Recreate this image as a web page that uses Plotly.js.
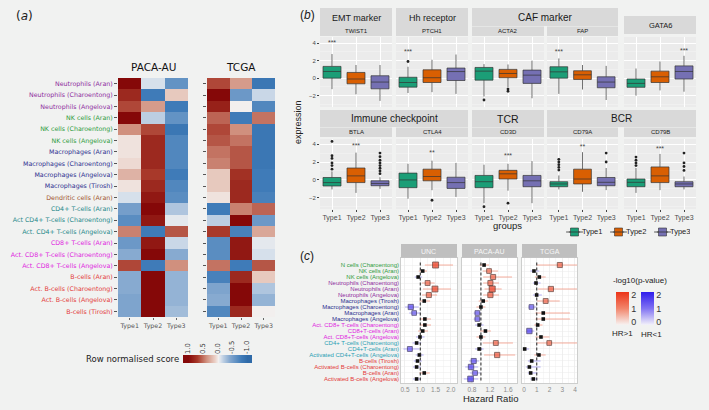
<!DOCTYPE html>
<html>
<head>
<meta charset="utf-8">
<script src="https://cdn.plot.ly/plotly-3.0.1.min.js"></script>
<style>
  html, body { margin: 0; padding: 0; background: #f1f2f1; }
  #chart { width: 709px; height: 410px; }
</style>
</head>
<body>
<div id="chart"></div>
<script>
// ---------- shared ----------
const typeNames = ['Type1', 'Type2', 'Type3'];

// ---------- (a) heatmap data ----------
const heatCells = ['Neutrophils (Aran)', 'Neutrophils (Charoentong)', 'Neutrophils (Angelova)',
  'NK cells (Aran)', 'NK cells (Charoentong)', 'NK cells (Angelova)',
  'Macrophages (Aran)', 'Macrophages (Charoentong)', 'Macrophages (Angelova)', 'Macrophages (Tirosh)',
  'Dendritic cells (Aran)', 'CD4+ T-cells (Aran)', 'Act CD4+ T-cells (Charoentong)', 'Act. CD4+ T-cells (Angelova)',
  'CD8+ T-cells (Aran)', 'Act. CD8+ T-cells (Charoentong)', 'Act. CD8+ T-cells (Angelova)',
  'B-cells (Aran)', 'Act. B-cells (Charoentong)', 'Act. B-cells (Angelova)', 'B-cells (Tirosh)'];
const heatGroups = ['neut', 'neut', 'neut', 'nk', 'nk', 'nk', 'mac', 'mac', 'mac', 'mac', 'dc',
  'cd4', 'cd4', 'cd4', 'cd8', 'cd8', 'cd8', 'b', 'b', 'b', 'b'];

const pacaType1 = [1.0, 0.8, 0.65, 1.0, 0.4, 0.05, 0.05, 0.08, 0.25, 0.05, -0.1, -0.5, -0.65, 0.45, -0.55, -0.4, 0.65, -0.4, -0.4, -0.45, -0.45];
const pacaType2 = [-0.1, -0.8, 0.35, -0.2, 0.65, 0.8, 0.8, 0.8, 0.7, 0.8, 0.9, 1.0, 0.9, -0.8, 0.9, 1.0, -0.8, 1.0, 1.0, 1.0, 1.0];
const pacaType3 = [-0.6, 0.15, -0.8, -0.6, -0.85, -0.7, -0.7, -0.7, -0.8, -0.7, -0.65, -0.25, -0.05, 0.6, -0.15, -0.4, 0.4, -0.35, -0.35, -0.35, -0.3];
const tcgaType1 = [0.65, 1.0, 0.85, 0.55, 0.65, 0.6, 0.5, 0.45, 0.15, 0.15, 0.05, -0.8, -0.2, 0.7, -0.65, -0.65, 0.5, -0.75, -0.45, -0.4, -0.7];
const tcgaType2 = [0.35, -0.55, 0.0, -0.8, 0.4, 0.5, 0.6, 0.6, 0.75, 0.8, 0.8, 0.45, 1.0, -0.75, 0.9, 0.9, -0.8, 0.8, 1.0, 1.0, 0.8];
const tcgaType3 = [-0.85, -0.15, -0.7, 0.5, -0.85, -0.85, -0.85, -0.85, -0.8, -0.8, -0.75, 0.55, -0.55, 0.3, -0.05, -0.1, 0.6, 0.15, -0.25, -0.35, 0.0];

// colour key steps for "Row normalised score"
const scaleSteps = [1.2, 1.0, 0.8, 0.6, 0.4, 0.2, 0, -0.2, -0.4, -0.6, -0.8, -1.0, -1.2];
const scaleTicks = [1, 0.5, 0, -0.5, -1];
const scaleTickText = ['1.0', '0.5', '0.0', '-0.5', '-1.0'];

// ---------- (b) box plot data ----------
const genes = ['TWIST1', 'PTCH1', 'ACTA2', 'FAP', 'GATA6', 'BTLA', 'CTLA4', 'CD3D', 'CD79A', 'CD79B'];
// each row: [lower whisker, q1, median, q3, upper whisker]
const type1Stats = [[-1.26, 0, 0.76, 1.34, 2.75], [-1.7, -1.03, -0.5, 0.1, 1.3], [-2.1, -0.23, 0.8, 1.22, 1.6],
  [-1.8, 0, 0.72, 1.3, 2.25], [-2.0, -1.05, -0.6, -0.1, 1.1], [-1.06, -0.68, -0.3, 0.27, 0.95],
  [-2.1, -0.87, 0, 0.76, 1.8], [-2.6, -0.87, -0.2, 0.5, 1.7], [-1.06, -0.76, -0.45, -0.2, 0.5], [-1.45, -0.76, -0.27, 0.1, 1.33]];
const type2Stats = [[-1.85, -0.65, -0.1, 0.65, 1.5], [-1.6, -0.5, 0.05, 0.95, 2.1], [-1.07, 0.04, 0.53, 1.0, 1.56],
  [-1.3, -0.15, 0.38, 0.84, 1.5], [-1.4, -0.5, 0.15, 0.8, 1.9], [-1.45, -0.3, 0.45, 1.33, 3.05],
  [-1.15, -0.1, 0.38, 1.2, 2.15], [-1.2, 0.1, 0.68, 1.07, 1.8], [-1.33, -0.45, 0.1, 1.2, 3.1], [-1.14, -0.3, 0.45, 1.45, 2.9]];
const type3Stats = [[-2.6, -1.22, -0.45, 0.27, 1.5], [-1.8, -0.27, 0.75, 1.15, 2.7], [-2.3, -0.6, 0.34, 0.92, 2.0],
  [-2.5, -1.1, -0.45, 0.15, 1.4], [-1.55, -0.1, 0.76, 1.4, 2.55], [-1.0, -0.65, -0.4, -0.1, 0.3],
  [-1.9, -0.95, -0.3, 0.3, 1.9], [-2.6, -0.76, -0.1, 0.5, 2.1], [-1.14, -0.65, -0.27, 0.27, 1.33], [-1.06, -0.76, -0.45, -0.2, 0.38]];
const type1Outliers = [[], [1.9], [-2.5], [], [], [1.2, 1.6, 1.9, 2.4, 2.7, 4.3], [], [-3.0], [1.1, 1.4, 1.7, 2.0, 2.3], [1.6, 1.9, 2.2, 2.55]];
const type2Outliers = [[], [], [-1.25, -1.5], [], [], [], [-2.27], [-2.6], [], []];
const type3Outliers = [[], [], [], [], [], [0.7, 1.0, 1.3, 1.6, 1.9, 2.2, 2.6, 3.0], [], [], [2.0, 3.0], [1.06, 1.5, 1.9, 3.0]];
const sigText = ['***', '***', '', '***', '***', '***', '**', '***', '**', '***'];
const sigGroup = ['Type1', 'Type1', 'Type1', 'Type1', 'Type3', 'Type2', 'Type2', 'Type2', 'Type2', 'Type2'];
const sigLevel = [4.0, 3.0, 0, 3.0, 3.1, 3.8, 2.95, 2.66, 3.7, 3.4];

// ---------- (c) forest plot data ----------
const forestCells = ['N cells (Charoentong)', 'NK cells (Aran)', 'NK cells (Angelova)',
  'Neutrophils (Charoentong)', 'Neutrophils (Aran)', 'Neutrophils (Angelova)',
  'Macrophages (Tirosh)', 'Macrophages (Charoentong)', 'Macrophages (Aran)', 'Macrophages (Angelova)',
  'Act. CD8+ T-cells (Charoentong)', 'CD8+T-cells (Aran)', 'Act. CD8+T-cells (Angelova)',
  'CD4+ T-cells (Charoentong)', 'CD4+T-cells (Aran)', 'Activated CD4+T-cells (Angelova)',
  'B-cells (Tirosh)', 'Activated B-cells (Charoentong)', 'B-cells (Aran)', 'Activated B-cells (Angelova)'];
const forestGroups = ['nk', 'nk', 'nk', 'neut', 'neut', 'neut', 'mac', 'mac', 'mac', 'mac',
  'cd8', 'cd8', 'cd8', 'cd4c', 'cd4c', 'cd4c', 'b', 'b', 'b', 'b'];

const uncHR   = [1.50, 1.08, 0.93, 1.24, 1.48, 1.28, 1.13, 0.69, 0.80, 1.15, 1.15, 1.08, 0.99, 0.88, 0.66, 0.97, 0.91, 0.88, 1.13, 0.88];
const uncLow  = [1.15, 0.95, 0.82, 1.05, 1.09, 1.06, 0.97, 0.50, 0.64, 0.98, 0.98, 0.93, 0.86, 0.75, 0.45, 0.85, 0.79, 0.76, 0.97, 0.76];
const uncHigh = [2.07, 1.22, 1.06, 1.47, 2.00, 1.55, 1.32, 0.95, 1.00, 1.35, 1.35, 1.25, 1.14, 1.03, 0.97, 1.11, 1.05, 1.02, 1.31, 1.02];
const uncLogP = [2.2, 0.6, 0.6, 1.5, 2.1, 1.6, 0.9, 1.7, 1.35, 1.0, 1.0, 0.5, 0.1, 0.9, 1.5, 0.2, 0.8, 0.9, 0.9, 0.9];

const pacaHR   = [1.07, 1.18, 1.27, 1.21, 1.25, 1.21, 1.05, 1.00, 0.92, 0.92, 0.96, 1.10, 1.00, 1.33, 0.96, 1.36, 0.84, 0.78, 0.87, 0.77];
const pacaLow  = [0.97, 1.04, 1.05, 1.05, 1.08, 1.05, 0.95, 0.90, 0.84, 0.84, 0.87, 0.98, 0.90, 1.04, 0.87, 1.07, 0.74, 0.65, 0.76, 0.62];
const pacaHigh = [1.18, 1.38, 1.69, 1.40, 1.46, 1.40, 1.16, 1.10, 1.00, 1.00, 1.06, 1.22, 1.10, 1.71, 1.06, 1.76, 0.96, 0.94, 0.99, 0.94];
const pacaLogP = [0.7, 1.4, 1.6, 1.6, 2.2, 1.7, 0.5, 0.1, 1.35, 1.35, 0.4, 0.9, 0.1, 1.5, 0.4, 1.7, 1.6, 1.8, 1.4, 2.0];

const tcgaHR   = [2.81, 0.78, 1.20, 0.94, 2.11, 0.99, 1.70, 0.58, 1.51, 1.51, 1.07, 0.42, 1.33, 1.98, 0.05, 1.17, 0.60, 0.42, 0.52, 0.73];
const tcgaLow  = [1.00, 0.50, 0.85, 0.70, 1.10, 0.70, 1.02, 0.35, 0.90, 0.90, 0.80, 0.20, 0.90, 1.00, 0.00, 0.80, 0.30, 0.15, 0.30, 0.50];
const tcgaHigh = [4.20, 1.20, 1.70, 1.30, 4.20, 1.40, 2.80, 0.98, 3.60, 3.60, 1.45, 0.80, 2.00, 4.20, 0.40, 1.70, 1.30, 1.30, 1.05, 1.05];
const tcgaLogP = [1.6, 0.4, 0.5, 0.2, 1.7, 0.1, 1.5, 1.35, 1.0, 1.0, 0.2, 1.8, 0.6, 1.4, 1.0, 0.3, 0.7, 0.9, 1.2, 0.8];

const hrRef = 1;
const sigCut = 1.3;

// ---------- styling ----------
const W = 709, H = 410;
const fx = p => p / W;
const fy = p => 1 - p / H;
const domX = (a, b) => [fx(a), fx(b)];
const domY = (top, bottom) => [fy(bottom), fy(top)];

const groupColors = { neut: '#8e2c9e', nk: '#2e9b3c', mac: '#2c2f8f', dc: '#a0522d', cd4: '#25888a',
  cd4c: '#2aa0b4', cd8: '#e022e0', b: '#e33a3a' };
const typeColors = ['#1b9e77', '#d95f02', '#7570b3'];
const heatScale = [[0, '#2f6aa8'], [0.1, '#3f7bb8'], [0.3, '#87aad0'], [0.45, '#d6e0eb'], [0.5, '#f2efee'],
  [0.55, '#ecd4cb'], [0.7, '#d0907e'], [0.85, '#a8392a'], [1, '#850808']];
const SEABORN = 'DejaVu Sans';

const data = [];
const shapes = [];
const annotations = [];

function ann(text, x, y, opt = {}) {
  annotations.push({
    text, x: fx(x), y: fy(y), xref: 'paper', yref: 'paper', showarrow: false,
    xanchor: opt.xanchor || 'center', yanchor: 'middle', textangle: opt.angle || 0,
    font: { size: opt.size || 8, color: opt.color || '#1a1a1a', family: opt.family || 'Liberation Sans, Arial, sans-serif' }
  });
}
function rect(x0, x1, y0, y1, fill) {
  shapes.push({ type: 'rect', xref: 'paper', yref: 'paper', x0: fx(x0), x1: fx(x1), y0: fy(y1), y1: fy(y0),
    fillcolor: fill, line: { width: 0 }, layer: 'below' });
}

const layout = {
  width: W, height: H, margin: { l: 0, r: 0, t: 0, b: 0 },
  paper_bgcolor: '#f1f2f1', plot_bgcolor: 'rgba(0,0,0,0)',
  showlegend: false, boxmode: 'overlay',
  font: { family: 'Liberation Sans, Arial, sans-serif', size: 8, color: '#333' },
  shapes, annotations
};

// ---------- (a) heatmaps ----------
const rowIdx = heatCells.map((_, i) => i);
const heatLabels = heatCells.map((t, i) => `<span style="color:${groupColors[heatGroups[i]]}">${t}</span>`);
const toRows = (a, b, c) => a.map((v, i) => [v, b[i], c[i]]);

[[pacaType1, pacaType2, pacaType3, 118, 188], [tcgaType1, tcgaType2, tcgaType3, 207, 275]].forEach((h, k) => {
  const s = k === 0 ? '' : '2';
  data.push({ type: 'heatmap', x: typeNames, y: rowIdx, z: toRows(h[0], h[1], h[2]), zmin: -1, zmax: 1,
    colorscale: heatScale, showscale: false, xaxis: 'x' + s, yaxis: 'y' + s, hoverinfo: 'skip' });
  layout['xaxis' + s] = { domain: domX(h[3], h[4]), anchor: 'y' + s, type: 'category', ticks: 'outside', ticklen: 2,
    tickcolor: '#666', tickfont: { family: SEABORN, size: 6.3, color: '#555' }, showgrid: false, zeroline: false };
  layout['yaxis' + s] = { domain: domY(78, 317), anchor: 'x' + s, range: [20.5, -0.5], tickvals: rowIdx,
    ticktext: heatLabels, showticklabels: k === 0, ticks: 'outside', ticklen: 3, tickcolor: '#555',
    tickfont: { family: SEABORN, size: 6.3 }, showgrid: false, zeroline: false };
});

data.push({ type: 'heatmap', x: scaleSteps, y: [0], z: [scaleSteps], zsmooth: 'best', zmin: -1, zmax: 1,
  colorscale: heatScale, showscale: false, xaxis: 'x3', yaxis: 'y3', hoverinfo: 'skip' });
layout.xaxis3 = { domain: domX(183, 252), anchor: 'y3', side: 'top', range: [1.17, -1.17], tickvals: scaleTicks,
  ticktext: scaleTickText, tickangle: -90, ticks: '', tickfont: { family: SEABORN, size: 6.8, color: '#333' },
  showgrid: false, zeroline: false };
layout.yaxis3 = { domain: domY(355, 363), anchor: 'x3', range: [-0.5, 0.5], visible: false };

ann('(<i>a</i>)', 24, 16, { size: 12, family: SEABORN });
ann('PACA-AU', 153, 67, { size: 10.5, family: SEABORN, color: '#111' });
ann('TCGA', 241, 67, { size: 10.5, family: SEABORN, color: '#111' });
ann('Row normalised score', 181, 359, { size: 8.5, family: SEABORN, xanchor: 'right', color: '#222' });

// ---------- (b) box plots ----------
const panelX = [[320, 392], [396, 468], [472, 544], [547, 618], [624, 696],
  [320, 392], [396, 468], [472, 544], [547, 618], [624, 696]];
const rowY = [[37, 107], [139, 209]];
const rowRange = [[-3.3, 4.7], [-3.25, 4.57]];
const allStats = [type1Stats, type2Stats, type3Stats];
const allOutliers = [type1Outliers, type2Outliers, type3Outliers];

genes.forEach((g, i) => {
  const n = 4 + i, r = i < 5 ? 0 : 1, left = i === 0 || i === 5;
  const xa = 'x' + n, ya = 'y' + n;
  layout['xaxis' + n] = { domain: domX(...panelX[i]), anchor: ya, type: 'category', categoryorder: 'array',
    categoryarray: typeNames, range: [-0.5, 2.5], showgrid: true, gridcolor: '#ffffff', gridwidth: 1,
    showticklabels: r === 1, ticks: r === 1 ? 'outside' : '', ticklen: 2, tickcolor: '#444',
    tickfont: { size: 7, color: '#4d4d4d' }, zeroline: false };
  layout['yaxis' + n] = { domain: domY(...rowY[r]), anchor: xa, range: rowRange[r], tick0: 0, dtick: 2,
    showgrid: true, gridcolor: '#ffffff', gridwidth: 1,
    minor: { dtick: 1, showgrid: true, gridcolor: '#f6f6f6', gridwidth: 0.5 },
    showticklabels: left, ticks: left ? 'outside' : '', ticklen: 2, tickcolor: '#444',
    tickfont: { size: 6, color: '#4d4d4d' }, zeroline: false };
  shapes.push({ type: 'rect', xref: xa + ' domain', yref: ya + ' domain', x0: 0, x1: 1, y0: 0, y1: 1,
    fillcolor: '#ebebeb', line: { width: 0 }, layer: 'below' });

  typeNames.forEach((t, k) => {
    const s = allStats[k][i];
    data.push({ type: 'box', x: [t], lowerfence: [s[0]], q1: [s[1]], median: [s[2]], q3: [s[3]], upperfence: [s[4]],
      fillcolor: typeColors[k], line: { color: '#333', width: 0.7 }, whiskerwidth: 0, width: 0.75,
      boxpoints: false, xaxis: xa, yaxis: ya, hoverinfo: 'skip' });
    const out = allOutliers[k][i];
    if (out.length) {
      data.push({ type: 'scatter', mode: 'markers', x: out.map(() => t), y: out,
        marker: { size: 2.8, color: '#222' }, xaxis: xa, yaxis: ya, hoverinfo: 'skip' });
    }
  });
  if (sigText[i]) {
    data.push({ type: 'scatter', mode: 'text', x: [sigGroup[i]], y: [sigLevel[i]], text: [sigText[i]],
      textfont: { size: 7, color: '#444' }, xaxis: xa, yaxis: ya, hoverinfo: 'skip' });
  }
});

const stripsB = [
  [320, 392, 8, 27, 'EMT marker', 9], [320, 392, 26.5, 36, 'TWIST1', 6],
  [396, 468, 8, 27, 'Hh receptor', 9], [396, 468, 26.5, 36, 'PTCH1', 6],
  [472, 618, 8, 26, 'CAF marker', 10], [472, 544, 26.5, 36, 'ACTA2', 6], [547, 618, 26.5, 36, 'FAP', 6],
  [624, 696, 16, 34, 'GATA6', 7.5],
  [320, 468, 110, 127, 'Immune checkpoint', 10], [320, 392, 127.5, 137, 'BTLA', 6], [396, 468, 127.5, 137, 'CTLA4', 6],
  [472, 544, 110, 127, 'TCR', 10.5], [472, 544, 127.5, 137, 'CD3D', 6],
  [547, 696, 110, 127, 'BCR', 10], [547, 618, 127.5, 137, 'CD79A', 6], [624, 696, 127.5, 137, 'CD79B', 6]
];
stripsB.forEach(s => {
  rect(s[0], s[1], s[2], s[3], '#d9d9d9');
  ann(s[4], (s[0] + s[1]) / 2, (s[2] + s[3]) / 2, { size: s[5], color: '#1a1a1a' });
});

ann('(<i>b</i>)', 307, 15, { size: 12 });
ann('expression', 298, 122, { size: 9, angle: -90, color: '#222' });
ann('groups', 507, 225, { size: 9.5, color: '#222' });

// legend keys for the three groups
layout.xaxis17 = { domain: domX(558, 690), anchor: 'y17', type: 'category', categoryorder: 'array',
  categoryarray: typeNames, range: [-0.375, 2.625], visible: false };
layout.yaxis17 = { domain: domY(226, 238), anchor: 'x17', range: [-1, 1], visible: false };
data.push({ type: 'scatter', mode: 'markers', x: typeNames, y: typeNames.map(() => 0),
  marker: { symbol: 'line-ew', size: 12, line: { color: '#333', width: 0.8 } }, xaxis: 'x17', yaxis: 'y17', hoverinfo: 'skip' });
data.push({ type: 'scatter', mode: 'markers+text', x: typeNames, y: typeNames.map(() => 0),
  text: typeNames.map(t => '\u2009' + t), textposition: 'middle right', textfont: { size: 7.5, color: '#222' },
  marker: { symbol: 'square', size: 8, color: typeColors, line: { color: '#333', width: 0.6 } },
  xaxis: 'x17', yaxis: 'y17', hoverinfo: 'skip' });
data.push({ type: 'scatter', mode: 'markers', x: typeNames, y: typeNames.map(() => 0),
  marker: { symbol: 'line-ew', size: 8, line: { color: '#333', width: 0.8 } }, xaxis: 'x17', yaxis: 'y17', hoverinfo: 'skip' });

// ---------- (c) forest plots ----------
const fIdx = forestCells.map((_, i) => i);
const forestLabels = forestCells.map((t, i) => `<span style="color:${groupColors[forestGroups[i]]}">${t}</span>`);
const forestPanels = [
  { name: 'UNC', hr: uncHR, lo: uncLow, hi: uncHigh, lp: uncLogP, x: [401, 457], range: [0.37, 2.2], tick0: 0.5, dtick: 0.5, minor: 0.25, fmt: '.1f' },
  { name: 'PACA-AU', hr: pacaHR, lo: pacaLow, hi: pacaHigh, lp: pacaLogP, x: [462, 517], range: [0.58, 1.8], tick0: 0.8, dtick: 0.4, minor: 0.2, fmt: '.1f' },
  { name: 'TCGA', hr: tcgaHR, lo: tcgaLow, hi: tcgaHigh, lp: tcgaLogP, x: [522, 577], range: [-0.16, 4.16], tick0: 0, dtick: 1, minor: 0.5, fmt: 'd' }
];

forestPanels.forEach((p, k) => {
  const n = 14 + k, xa = 'x' + n, ya = 'y' + n;
  layout['xaxis' + n] = { domain: domX(...p.x), anchor: ya, range: p.range, tick0: p.tick0, dtick: p.dtick,
    tickformat: p.fmt, ticks: '', tickfont: { size: 6.5, color: '#8c8c8c' }, showgrid: true, gridcolor: '#e4e4e4',
    gridwidth: 0.6, minor: { dtick: p.minor, showgrid: true, gridcolor: '#f0f0f0', gridwidth: 0.5 },
    zeroline: false, showline: true, mirror: true, linecolor: '#c4c4c4', linewidth: 0.8 };
  layout['yaxis' + n] = { domain: domY(258, 383), anchor: xa, range: [19.67, -1.17], tickvals: fIdx,
    ticktext: forestLabels, showticklabels: k === 0, ticks: '', tickfont: { size: 6 },
    showgrid: true, gridcolor: '#ececec', gridwidth: 0.5, zeroline: false,
    showline: true, mirror: true, linecolor: '#c4c4c4', linewidth: 0.8 };
  shapes.push({ type: 'rect', xref: xa + ' domain', yref: ya + ' domain', x0: 0, x1: 1, y0: 0, y1: 1,
    fillcolor: '#ffffff', line: { width: 0 }, layer: 'below' });
  shapes.push({ type: 'line', xref: xa, yref: ya + ' domain', x0: hrRef, x1: hrRef, y0: 0.02, y1: 0.97,
    line: { color: '#222', width: 1, dash: '3px,2px' }, layer: 'above' });
  rect(p.x[0], p.x[1], 244, 258, '#bfbfbf');
  ann(p.name, (p.x[0] + p.x[1]) / 2, 251, { size: 7, color: '#f7f7f7' });

  const pick = f => fIdx.filter(f);
  const up = pick(i => p.hr[i] >= hrRef), down = pick(i => p.hr[i] < hrRef);
  [[up, 'rgba(240,110,80,0.55)'], [down, 'rgba(110,95,240,0.5)']].forEach(([rows, col]) => {
    data.push({ type: 'scatter', mode: 'markers', x: rows.map(i => p.hr[i]), y: rows,
      error_x: { type: 'data', symmetric: false, array: rows.map(i => p.hi[i] - p.hr[i]),
        arrayminus: rows.map(i => p.hr[i] - p.lo[i]), color: col, thickness: 1, width: 0 },
      marker: { size: 1, opacity: 0 }, xaxis: xa, yaxis: ya, hoverinfo: 'skip' });
  });
  const sigUp = up.filter(i => p.lp[i] >= sigCut), sigDown = down.filter(i => p.lp[i] >= sigCut);
  const nonSig = fIdx.filter(i => p.lp[i] < sigCut);
  const size = i => Math.min(7, 2.5 + 1.6 * p.lp[i]);
  data.push({ type: 'scatter', mode: 'markers', x: nonSig.map(i => p.hr[i]), y: nonSig,
    marker: { symbol: 'square', size: 3.6, color: '#111' }, xaxis: xa, yaxis: ya, hoverinfo: 'skip' });
  data.push({ type: 'scatter', mode: 'markers', x: sigUp.map(i => p.hr[i]), y: sigUp,
    marker: { symbol: 'square', size: sigUp.map(size), color: sigUp.map(i => p.lp[i]), coloraxis: 'coloraxis',
      line: { color: '#3a1008', width: 0.8 } }, xaxis: xa, yaxis: ya, hoverinfo: 'skip' });
  data.push({ type: 'scatter', mode: 'markers', x: sigDown.map(i => p.hr[i]), y: sigDown,
    marker: { symbol: 'square', size: sigDown.map(size), color: sigDown.map(i => p.lp[i]), coloraxis: 'coloraxis2',
      line: { color: '#140c40', width: 0.8 } }, xaxis: xa, yaxis: ya, hoverinfo: 'skip' });
});

const cbar = x => ({ x: fx(x), xanchor: 'left', y: fy(308.5), yanchor: 'middle', len: 33, lenmode: 'pixels',
  thickness: 13, thicknessmode: 'pixels', tickvals: [0, 1, 2], ticks: '', outlinewidth: 0, xpad: 0, ypad: 0,
  tickfont: { size: 9, color: '#333' } });
layout.coloraxis = { cmin: -0.2, cmax: 2.2, colorscale: [[0, '#f7f3f2'], [0.5, '#f2856b'], [1, '#ec3418']], colorbar: cbar(616) };
layout.coloraxis2 = { cmin: -0.2, cmax: 2.2, colorscale: [[0, '#f3f2fa'], [0.5, '#8173f2'], [1, '#2f1cec']], colorbar: cbar(641) };

ann('(<i>c</i>)', 307, 256, { size: 12 });
ann('Hazard Ratio', 490, 398, { size: 9.5, color: '#222' });
ann('-log10(p-value)', 640, 280, { size: 8, color: '#222' });
ann('HR&gt;1', 622, 333, { size: 8, color: '#222' });
ann('HR&lt;1', 651, 334, { size: 8, color: '#222' });

Plotly.newPlot('chart', data, layout, { displayModeBar: false, staticPlot: true });
</script>
</body>
</html>
